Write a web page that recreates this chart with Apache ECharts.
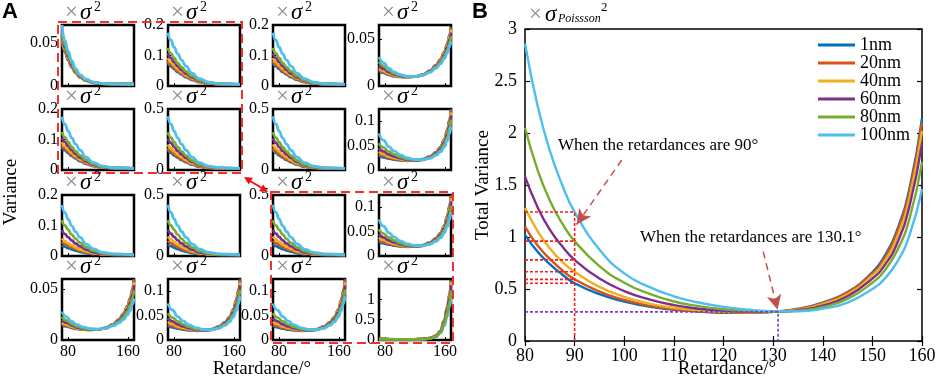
<!DOCTYPE html>
<html>
<head>
<meta charset="utf-8">
<script src="https://cdn.jsdelivr.net/npm/echarts@6.0.0/dist/echarts.min.js"></script>
<style>
  html, body { margin: 0; padding: 0; background: #fff; }
  #main { width: 941px; height: 380px; }
</style>
</head>
<body>
<div id="main"></div>
<script>
// film thickness + matlab default line colours
const thickness = ['1nm', '20nm', '40nm', '60nm', '80nm', '100nm'];
const lineColors = ['#0072BD', '#D95319', '#EDB120', '#7E2F8E', '#77AC30', '#4DBEEE'];
const serif = '"Liberation Serif", "Times New Roman", serif';

// ---------- panel B : total variance vs retardance ----------
const retB = [80, 82.5, 85, 87.5, 90, 95, 100, 105, 110, 115, 120, 125, 130, 135, 140, 145, 150, 152.5, 155, 157.5, 160];
const var1nm   = [1.02, 0.86, 0.74, 0.64, 0.555, 0.45, 0.38, 0.33, 0.30, 0.283, 0.272, 0.27, 0.28, 0.31, 0.37, 0.47, 0.66, 0.82, 1.07, 1.47, 2.14];
const var20nm  = [1.10, 0.92, 0.79, 0.68, 0.593, 0.475, 0.395, 0.34, 0.305, 0.286, 0.275, 0.272, 0.28, 0.305, 0.365, 0.465, 0.65, 0.80, 1.05, 1.44, 2.10];
const var40nm  = [1.28, 1.06, 0.89, 0.76, 0.666, 0.52, 0.425, 0.36, 0.32, 0.295, 0.282, 0.277, 0.28, 0.30, 0.355, 0.45, 0.63, 0.77, 1.00, 1.38, 2.02];
const var60nm  = [1.58, 1.29, 1.07, 0.91, 0.78, 0.60, 0.48, 0.40, 0.345, 0.31, 0.29, 0.282, 0.28, 0.295, 0.34, 0.43, 0.60, 0.73, 0.94, 1.30, 1.90];
const var80nm  = [2.05, 1.65, 1.35, 1.13, 0.96, 0.72, 0.56, 0.455, 0.38, 0.335, 0.305, 0.288, 0.28, 0.29, 0.325, 0.405, 0.56, 0.68, 0.87, 1.18, 1.72];
const var100nm = [2.86, 2.27, 1.83, 1.50, 1.24, 0.88, 0.65, 0.52, 0.43, 0.37, 0.328, 0.30, 0.285, 0.285, 0.31, 0.37, 0.50, 0.60, 0.76, 1.02, 1.46];
const varB = [var1nm, var20nm, var40nm, var60nm, var80nm, var100nm];
const retMark = 90;       // red guide lines
const retBest = 131;      // purple guide lines (drawn position)
const varBest = 0.28;

// ---------- panel A : 16 small variance plots ----------
const retDecay = [72, 76, 80, 85, 90, 96, 104, 114, 126, 140, 168];
const retBowl = [72, 78, 85, 92, 100, 110, 120, 130, 140, 148, 154, 159, 163, 166, 168];

const decayTight = [
  [0.052, 0.039, 0.030, 0.0215, 0.015, 0.0098, 0.0062, 0.0037, 0.0026, 0.0022, 0.002],
  [0.054, 0.040, 0.031, 0.022, 0.0155, 0.010, 0.0063, 0.0038, 0.0026, 0.0022, 0.002],
  [0.056, 0.042, 0.032, 0.023, 0.016, 0.0105, 0.0065, 0.0039, 0.0027, 0.0023, 0.002],
  [0.059, 0.044, 0.034, 0.024, 0.017, 0.011, 0.0068, 0.004, 0.0027, 0.0023, 0.002],
  [0.063, 0.047, 0.036, 0.026, 0.018, 0.012, 0.0072, 0.0042, 0.0028, 0.0024, 0.002],
  [0.070, 0.052, 0.040, 0.029, 0.020, 0.013, 0.008, 0.0045, 0.003, 0.0025, 0.002]
];
const decayMid = [
  [0.076, 0.065, 0.056, 0.046, 0.038, 0.029, 0.020, 0.0125, 0.008, 0.0058, 0.005],
  [0.082, 0.070, 0.060, 0.050, 0.041, 0.032, 0.022, 0.0135, 0.0085, 0.006, 0.005],
  [0.092, 0.079, 0.068, 0.056, 0.046, 0.035, 0.025, 0.015, 0.009, 0.006, 0.005],
  [0.107, 0.092, 0.079, 0.065, 0.053, 0.041, 0.028, 0.017, 0.010, 0.0065, 0.005],
  [0.125, 0.107, 0.092, 0.076, 0.062, 0.048, 0.033, 0.019, 0.011, 0.007, 0.005],
  [0.175, 0.150, 0.128, 0.105, 0.085, 0.065, 0.042, 0.024, 0.013, 0.008, 0.005]
];
const decayLarge = [
  [0.165, 0.141, 0.121, 0.101, 0.083, 0.064, 0.044, 0.027, 0.017, 0.012, 0.011],
  [0.18, 0.154, 0.132, 0.11, 0.09, 0.07, 0.048, 0.029, 0.018, 0.013, 0.011],
  [0.21, 0.18, 0.154, 0.128, 0.105, 0.081, 0.055, 0.033, 0.02, 0.014, 0.011],
  [0.26, 0.222, 0.19, 0.157, 0.128, 0.099, 0.066, 0.039, 0.023, 0.015, 0.012],
  [0.31, 0.265, 0.228, 0.188, 0.153, 0.118, 0.078, 0.045, 0.026, 0.017, 0.012],
  [0.44, 0.375, 0.32, 0.262, 0.212, 0.162, 0.105, 0.06, 0.032, 0.02, 0.013]
];
const decaySpread = [
  [0.036, 0.031, 0.026, 0.022, 0.018, 0.014, 0.0095, 0.006, 0.0045, 0.004, 0.004],
  [0.047, 0.040, 0.034, 0.028, 0.023, 0.018, 0.012, 0.0075, 0.005, 0.004, 0.004],
  [0.058, 0.049, 0.042, 0.035, 0.028, 0.022, 0.015, 0.009, 0.006, 0.0045, 0.004],
  [0.085, 0.072, 0.062, 0.051, 0.041, 0.032, 0.021, 0.012, 0.007, 0.005, 0.004],
  [0.118, 0.100, 0.086, 0.070, 0.057, 0.044, 0.029, 0.017, 0.009, 0.006, 0.004],
  [0.167, 0.142, 0.121, 0.099, 0.080, 0.061, 0.040, 0.023, 0.012, 0.007, 0.004]
];
const decaySpreadLarge = [
  [0.095, 0.081, 0.069, 0.057, 0.046, 0.036, 0.024, 0.015, 0.011, 0.01, 0.01],
  [0.125, 0.106, 0.091, 0.074, 0.06, 0.046, 0.031, 0.019, 0.012, 0.01, 0.01],
  [0.16, 0.136, 0.116, 0.095, 0.077, 0.059, 0.039, 0.023, 0.014, 0.011, 0.01],
  [0.215, 0.183, 0.156, 0.128, 0.103, 0.079, 0.052, 0.03, 0.017, 0.012, 0.01],
  [0.295, 0.251, 0.214, 0.175, 0.141, 0.108, 0.071, 0.041, 0.022, 0.014, 0.01],
  [0.42, 0.357, 0.304, 0.249, 0.201, 0.153, 0.1, 0.057, 0.03, 0.018, 0.01]
];
const bowlSmall = [
  [0.016, 0.014, 0.012, 0.0105, 0.0097, 0.0095, 0.0099, 0.0119, 0.0161, 0.0222, 0.0282, 0.036, 0.0445, 0.054, 0.063],
  [0.017, 0.0148, 0.0124, 0.0108, 0.0099, 0.0096, 0.0099, 0.0119, 0.016, 0.022, 0.028, 0.0355, 0.044, 0.053, 0.062],
  [0.019, 0.0162, 0.0133, 0.0114, 0.0102, 0.0097, 0.0099, 0.0118, 0.0158, 0.0215, 0.027, 0.0345, 0.043, 0.052, 0.060],
  [0.022, 0.0185, 0.0148, 0.0124, 0.0108, 0.0099, 0.0099, 0.0117, 0.0155, 0.021, 0.026, 0.033, 0.041, 0.049, 0.057],
  [0.026, 0.0215, 0.0168, 0.0136, 0.0115, 0.0101, 0.0099, 0.0116, 0.015, 0.020, 0.025, 0.031, 0.038, 0.046, 0.053],
  [0.031, 0.025, 0.019, 0.015, 0.0122, 0.0103, 0.0100, 0.0115, 0.0145, 0.019, 0.0235, 0.029, 0.035, 0.042, 0.048]
];
const bowlMid = [
  [0.029, 0.026, 0.0235, 0.0215, 0.020, 0.019, 0.0196, 0.022, 0.028, 0.0365, 0.047, 0.062, 0.081, 0.102, 0.125],
  [0.033, 0.029, 0.0255, 0.023, 0.021, 0.0195, 0.0197, 0.0218, 0.0275, 0.036, 0.046, 0.061, 0.08, 0.1, 0.123],
  [0.038, 0.033, 0.028, 0.025, 0.0225, 0.020, 0.0198, 0.0215, 0.027, 0.035, 0.045, 0.059, 0.077, 0.096, 0.118],
  [0.045, 0.038, 0.032, 0.028, 0.0245, 0.021, 0.020, 0.021, 0.026, 0.034, 0.043, 0.056, 0.073, 0.091, 0.112],
  [0.055, 0.046, 0.038, 0.032, 0.027, 0.0225, 0.0205, 0.021, 0.025, 0.032, 0.040, 0.052, 0.067, 0.084, 0.103],
  [0.075, 0.061, 0.048, 0.039, 0.031, 0.025, 0.0215, 0.021, 0.024, 0.030, 0.037, 0.047, 0.060, 0.074, 0.09]
];
const bowlLow = [
  [0.015, 0.0134, 0.0119, 0.0109, 0.0102, 0.0100, 0.0103, 0.0119, 0.0153, 0.0202, 0.0258, 0.033, 0.041, 0.050, 0.060],
  [0.016, 0.0141, 0.0124, 0.0112, 0.0104, 0.0101, 0.0103, 0.0119, 0.0152, 0.02, 0.0255, 0.0325, 0.0405, 0.0495, 0.059],
  [0.0175, 0.0152, 0.0131, 0.0117, 0.0107, 0.0102, 0.0103, 0.0118, 0.015, 0.0196, 0.025, 0.0315, 0.039, 0.048, 0.057],
  [0.020, 0.017, 0.0143, 0.0125, 0.0112, 0.0104, 0.0104, 0.0117, 0.0147, 0.019, 0.024, 0.030, 0.037, 0.045, 0.054],
  [0.023, 0.0192, 0.0158, 0.0135, 0.0118, 0.0106, 0.0105, 0.0116, 0.0143, 0.0181, 0.0225, 0.028, 0.034, 0.041, 0.049],
  [0.028, 0.0228, 0.0182, 0.015, 0.0127, 0.0111, 0.0107, 0.0115, 0.0138, 0.0168, 0.020, 0.0245, 0.029, 0.035, 0.041]
];
const riseSteep = [
  [0.019, 0.017, 0.015, 0.013, 0.013, 0.013, 0.015, 0.023, 0.046, 0.102, 0.225, 0.49, 0.81, 1.12, 1.47],
  [0.02, 0.018, 0.015, 0.014, 0.013, 0.013, 0.015, 0.022, 0.045, 0.1, 0.22, 0.48, 0.8, 1.1, 1.45],
  [0.022, 0.019, 0.016, 0.014, 0.013, 0.013, 0.015, 0.022, 0.044, 0.098, 0.215, 0.47, 0.78, 1.08, 1.42],
  [0.025, 0.021, 0.017, 0.015, 0.014, 0.014, 0.015, 0.022, 0.043, 0.094, 0.205, 0.44, 0.74, 1.02, 1.35],
  [0.03, 0.024, 0.019, 0.016, 0.014, 0.014, 0.015, 0.021, 0.04, 0.088, 0.19, 0.4, 0.67, 0.93, 1.22],
  [0.04, 0.03, 0.022, 0.018, 0.015, 0.014, 0.015, 0.02, 0.037, 0.08, 0.17, 0.35, 0.58, 0.8, 1.05]
];

// which curve set, y max and y tick labels for each small plot (row by row)
const panelCurves = [
  decayTight, decayMid, decayMid, bowlSmall,
  decayMid, decayLarge, decayLarge, bowlMid,
  decaySpread, decaySpreadLarge, decaySpreadLarge, bowlMid,
  bowlLow, bowlMid, bowlMid, riseSteep
];
const panelYMax = [0.07, 0.2, 0.2, 0.065, 0.2, 0.5, 0.5, 0.125, 0.2, 0.5, 0.5, 0.125, 0.06, 0.125, 0.125, 1.5];
const panelYTicks = [
  [0, 0.05], [0, 0.1, 0.2], [0, 0.1, 0.2], [0, 0.05],
  [0, 0.1, 0.2], [0, 0.5], [0, 0.5], [0, 0.05, 0.1],
  [0, 0.1, 0.2], [0, 0.5], [0, 0.5], [0, 0.05, 0.1],
  [0, 0.05], [0, 0.05, 0.1], [0, 0.05, 0.1], [0, 0.5, 1]
];
const smallXTicks = [80, 160];

const chart = echarts.init(document.getElementById('main'));

const colLeft = [62, 168, 273, 379];
const rowTop = [25, 109, 195, 279];
const grids = [], xAxes = [], yAxes = [], series = [], graphics = [];
const f = function (size, style) { return (style ? style + ' ' : '') + size + 'px ' + serif; };
const txt = function (x, y, s, font, extra) {
  return { type: 'text', x: x, y: y, z: 20, style: Object.assign({ text: s, font: font, fill: '#000', verticalAlign: 'middle' }, extra || {}) };
};

// small plots
panelCurves.forEach(function (curves, i) {
  const r = Math.floor(i / 4), c = i % 4;
  const xs = curves[0].length === retDecay.length ? retDecay : retBowl;
  grids.push({
    left: colLeft[c], top: rowTop[r], width: 72, height: 61,
    show: true, borderColor: '#000', borderWidth: 2.5
  });
  xAxes.push({
    gridIndex: i, type: 'value', min: 72, max: 168,
    axisLine: { show: false }, splitLine: { show: false },
    axisTick: { show: true, inside: true, length: 3, customValues: smallXTicks, lineStyle: { color: '#000' } },
    axisLabel: { show: r === 3, customValues: smallXTicks, fontFamily: serif, fontSize: 16, color: '#000', margin: 4 }
  });
  yAxes.push({
    gridIndex: i, type: 'value', min: 0, max: panelYMax[i],
    axisLine: { show: false }, splitLine: { show: false },
    axisTick: { show: true, inside: true, length: 3, customValues: panelYTicks[i], lineStyle: { color: '#000' } },
    axisLabel: { customValues: panelYTicks[i], fontFamily: serif, fontSize: 16, color: '#000', margin: 4 }
  });
  // draw order: cyan on top, except the steep panel where green ends on top
  const order = curves === riseSteep ? [5, 0, 1, 2, 3, 4] : [0, 1, 2, 3, 4, 5];
  order.forEach(function (k) {
    series.push({
      name: 'a' + i + '_' + k, type: 'line', xAxisIndex: i, yAxisIndex: i,
      data: xs.map(function (x, j) { return [x, curves[k][j]]; }),
      smooth: true, smoothMonotone: 'x', symbol: 'none', silent: true,
      lineStyle: { color: lineColors[k], width: 2.8 }
    });
  });
  // "×σ²" scale factor above each box
  const x0 = colLeft[c], y0 = rowTop[r] - 12;
  graphics.push(txt(x0 + 3, y0, '×', f(23), { fill: '#888' }));
  graphics.push(txt(x0 + 18, y0, 'σ', f(23, 'italic')));
  graphics.push(txt(x0 + 32, y0 - 6, '2', f(14)));
});

// panel B
const gB = grids.length;
grids.push({ left: 525, top: 29, width: 397, height: 312, show: true, borderColor: '#000', borderWidth: 1.5 });
xAxes.push({
  gridIndex: gB, type: 'value', min: 80, max: 160, interval: 10,
  axisLine: { show: false }, splitLine: { show: false },
  axisTick: { inside: true, length: 5, lineStyle: { color: '#000', width: 1.2 } },
  axisLabel: { fontFamily: serif, fontSize: 18, color: '#000', margin: 6 }
});
xAxes.push({
  gridIndex: gB, type: 'value', position: 'top', min: 80, max: 160, interval: 10,
  axisLine: { show: false }, splitLine: { show: false },
  axisTick: { inside: true, length: 5, lineStyle: { color: '#000', width: 1.2 } },
  axisLabel: { show: false }
});
yAxes.push({
  gridIndex: gB, type: 'value', min: 0, max: 3, interval: 0.5,
  axisLine: { show: false }, splitLine: { show: false },
  axisTick: { inside: true, length: 5, lineStyle: { color: '#000', width: 1.2 } },
  axisLabel: { fontFamily: serif, fontSize: 18, color: '#000', margin: 8 }
});
yAxes.push({
  gridIndex: gB, type: 'value', position: 'right', min: 0, max: 3, interval: 0.5,
  axisLine: { show: false }, splitLine: { show: false },
  axisTick: { inside: true, length: 5, lineStyle: { color: '#000', width: 1.2 } },
  axisLabel: { show: false }
});
const xB = xAxes.length - 2, yB = yAxes.length - 2;

varB.forEach(function (vals, k) {
  series.push({
    name: thickness[k], type: 'line', xAxisIndex: xB, yAxisIndex: yB,
    data: retB.map(function (x, j) { return [x, vals[j]]; }),
    smooth: true, symbol: 'none', silent: true,
    lineStyle: { color: lineColors[k], width: 2.4 }, itemStyle: { color: lineColors[k] }
  });
});

// red dotted guides at 90 deg
const iMark = retB.indexOf(retMark);
let topMark = 0;
varB.forEach(function (vals) {
  topMark = Math.max(topMark, vals[iMark]);
  series.push({
    type: 'line', xAxisIndex: xB, yAxisIndex: yB, symbol: 'none', silent: true, z: 3,
    data: [[80, vals[iMark]], [retMark, vals[iMark]]],
    lineStyle: { color: '#ff1a1a', width: 1.6, type: [3, 2] }
  });
});
series.push({
  type: 'line', xAxisIndex: xB, yAxisIndex: yB, symbol: 'none', silent: true, z: 3,
  data: [[retMark, 0], [retMark, topMark]],
  lineStyle: { color: '#ff1a1a', width: 1.6, type: [3, 2] }
});
// purple dotted guides at the common minimum + annotation arrows
series.push({
  type: 'line', xAxisIndex: xB, yAxisIndex: yB, symbol: 'none', silent: true, z: 3,
  data: [[80, varBest], [retBest, varBest], [retBest, 0]],
  lineStyle: { color: '#7b3fc4', width: 1.6, type: [3, 2] },
  markLine: {
    silent: true, symbol: ['none', 'arrow'], symbolSize: [11, 15], animation: false,
    label: { show: false },
    lineStyle: { color: '#c0504d', width: 1.5, type: [7, 5] },
    data: [
      [{ coord: [99.5, 1.74] }, { coord: [90.4, 1.12] }],
      [{ coord: [128, 0.86] }, { coord: [130.9, 0.3] }]
    ]
  }
});

// texts and frames
const sans = '"Liberation Sans", Arial, sans-serif';
graphics.push(txt(2, 12, 'A', 'bold 22px ' + sans));
graphics.push(txt(472, 12, 'B', 'bold 22px ' + sans));
graphics.push(Object.assign(txt(11, 192, 'Variance', f(19), { align: 'center' }), { rotation: Math.PI / 2 }));
graphics.push(txt(262, 369, 'Retardance/°', f(19), { align: 'center' }));
graphics.push(Object.assign(txt(483, 185, 'Total Variance', f(19), { align: 'center' }), { rotation: Math.PI / 2 }));
graphics.push(txt(727, 369, 'Retardance/°', f(19), { align: 'center' }));
graphics.push(txt(558, 146, 'When the retardances are 90°', f(17)));
graphics.push(txt(640, 238, 'When the retardances are 130.1°', f(17)));
// "×σ_Poissson²"
graphics.push(txt(529, 15, '×', f(23), { fill: '#888' }));
graphics.push(txt(545, 15, 'σ', f(23, 'italic')));
graphics.push(txt(558, 19, 'Poissson', f(12, 'italic')));
graphics.push(txt(601, 8, '2', f(13)));

const dashBox = function (x, y, w, h) {
  return { type: 'rect', shape: { x: x, y: y, width: w, height: h }, style: { fill: 'none', stroke: '#f23030', lineWidth: 2, lineDash: [9, 5] }, z: 10 };
};
graphics.push(dashBox(58, 22, 184, 151));
graphics.push(dashBox(271, 192, 182, 151));
// double-headed link arrow between the two boxes
graphics.push({ type: 'line', shape: { x1: 250, y1: 181, x2: 262, y2: 188 }, style: { stroke: '#f01010', lineWidth: 2 }, z: 10 });
graphics.push({ type: 'polygon', shape: { points: [[244, 177], [248.7, 184.6], [252.9, 177.8]] }, style: { fill: '#f01010' }, z: 10 });
graphics.push({ type: 'polygon', shape: { points: [[268, 192], [259.1, 191.2], [263.3, 184.4]] }, style: { fill: '#f01010' }, z: 10 });

chart.setOption({
  animation: false,
  backgroundColor: '#fff',
  grid: grids,
  xAxis: xAxes,
  yAxis: yAxes,
  legend: {
    data: thickness, orient: 'vertical', left: 818, top: 36, padding: 0,
    icon: 'rect', itemWidth: 37, itemHeight: 3, itemGap: 0,
    textStyle: { fontFamily: serif, fontSize: 18, color: '#000', lineHeight: 17.4 }
  },
  series: series,
  graphic: graphics
});
</script>
</body>
</html>
